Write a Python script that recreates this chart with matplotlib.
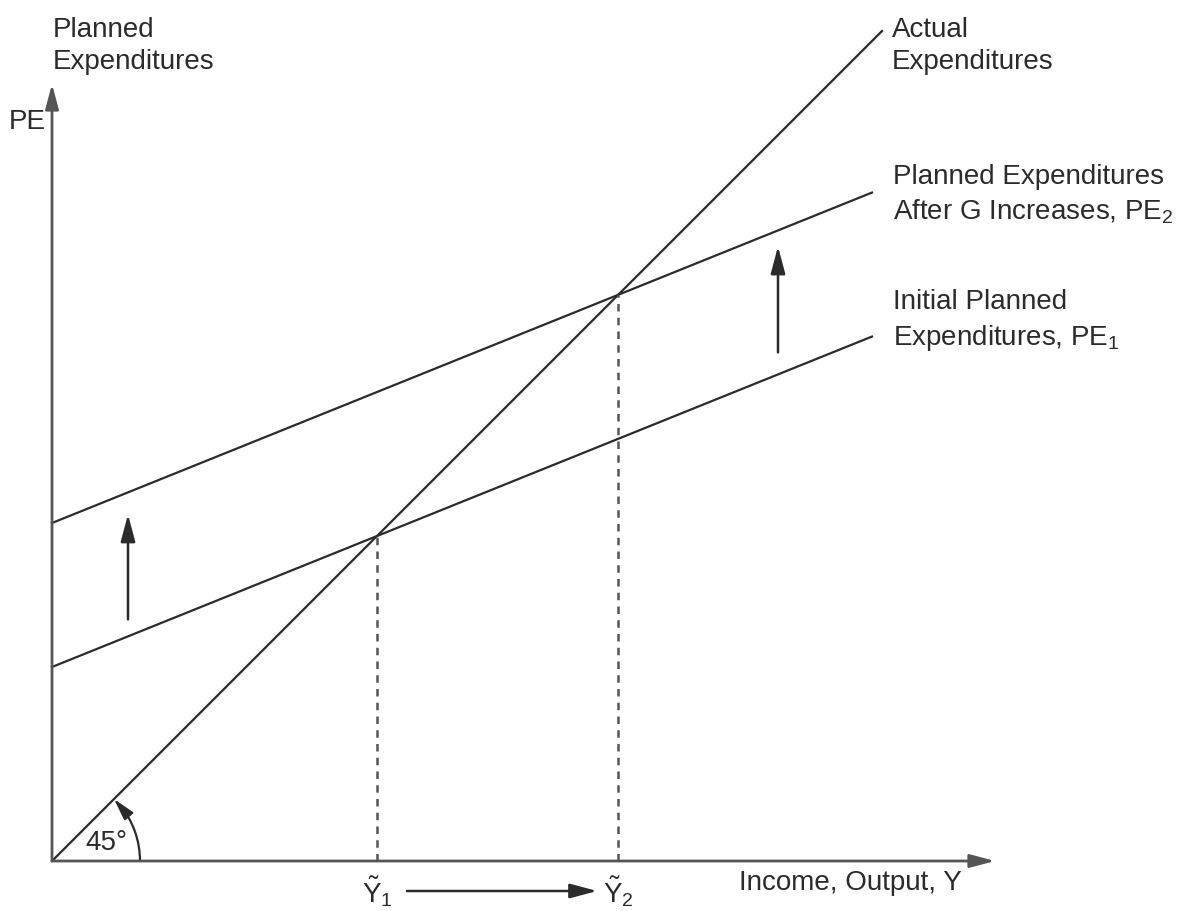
import numpy as np
import matplotlib
matplotlib.use("Agg")
import matplotlib.pyplot as plt
from matplotlib.patches import Arc

# 模型参数（单位≈像素，原点在坐标轴交点）
mpc = 0.403                 # 计划支出线斜率
autonomous_pe1 = 194        # 初始计划支出截距
autonomous_pe2 = 338        # G 增加后的截距
pe_line_end = 820           # PE 线画到的 Y
actual_line_end = 830       # 45 度线画到的 Y
x_axis_len = 943
y_axis_len = 777

font = "Liberation Sans"
plt.rcParams["font.family"] = [font, "DejaVu Sans"]
plt.rcParams["mathtext.fontset"] = "custom"
plt.rcParams["mathtext.rm"] = font
plt.rcParams["mathtext.it"] = font
plt.rcParams["mathtext.bf"] = font

ink = "#2b2b2b"
axis_c = "#555555"
fs = 20
ls_txt = 1.33
head = "-|>,head_length=0.75,head_width=0.2"

fig = plt.figure(figsize=(11.8, 9.12), dpi=100)
ax = fig.add_axes([0, 0, 1, 1])
ax.set_xlim(-52, 1128)
ax.set_ylim(-50, 862)
ax.axis("off")

# 坐标轴
ax.annotate("", xy=(0, y_axis_len), xytext=(0, 0),
            arrowprops=dict(arrowstyle=head, color=axis_c, lw=2, mutation_scale=20, shrinkA=0, shrinkB=0))
ax.annotate("", xy=(x_axis_len, 0), xytext=(0, 0),
            arrowprops=dict(arrowstyle=head, color=axis_c, lw=2, mutation_scale=20, shrinkA=0, shrinkB=0))

# 45 度线 与 两条计划支出线
y_act = np.array([0, actual_line_end])
ax.plot(y_act, y_act, color=ink, lw=1.6)
y_pe = np.array([0, pe_line_end])
pe1 = autonomous_pe1 + mpc * y_pe
pe2 = autonomous_pe2 + mpc * y_pe
ax.plot(y_pe, pe1, color=ink, lw=1.6)
ax.plot(y_pe, pe2, color=ink, lw=1.6)

# 均衡点
y1 = autonomous_pe1 / (1 - mpc)
y2 = autonomous_pe2 / (1 - mpc)
for yy in (y1, y2):
    ax.plot([yy, yy], [0, yy], color=axis_c, lw=1.8, ls=(0, (3, 2.5)))

# 上移箭头
for xa, g1, g2 in [(76, 17, 22), (726, 22, 16)]:
    lo = autonomous_pe1 + mpc * xa + g1
    hi = autonomous_pe2 + mpc * xa - g2
    ax.annotate("", xy=(xa, hi), xytext=(xa, lo),
                arrowprops=dict(arrowstyle=head, color=ink, lw=1.8, mutation_scale=22, shrinkA=0, shrinkB=0))

# Y1 -> Y2 箭头
ax.annotate("", xy=(y2 - 21, -30), xytext=(y1 + 30, -30),
            arrowprops=dict(arrowstyle=head, color=ink, lw=1.8, mutation_scale=22, shrinkA=0, shrinkB=0))

# 45° 弧线
ax.add_patch(Arc((0, 0), 176, 176, theta1=0, theta2=40, color=ink, lw=1.6))
ax.annotate("", xy=(62, 62), xytext=(68, 55),
            arrowprops=dict(arrowstyle=head, color=ink, lw=1.4, mutation_scale=18, shrinkA=0, shrinkB=0))
ax.text(33, 19, "45°", fontsize=fs, color=ink, va="center", ha="left")

# 文字
ax.text(1, 816, "Planned\nExpenditures", fontsize=fs, color=ink, va="center", ha="left", linespacing=ls_txt)
ax.text(-43, 740, "PE", fontsize=fs, color=ink, va="center", ha="left")
ax.text(840, 816, "Actual\nExpenditures", fontsize=fs, color=ink, va="center", ha="left", linespacing=ls_txt)
ax.text(841, 667, "Planned Expenditures\nAfter G Increases, PE$_2$", fontsize=fs, color=ink,
        va="center", ha="left", linespacing=ls_txt)
ax.text(841, 541, "Initial Planned\nExpenditures, PE$_1$", fontsize=fs, color=ink,
        va="center", ha="left", linespacing=ls_txt)
ax.text(687, -21, "Income, Output, Y", fontsize=fs, color=ink, va="center", ha="left")
ax.text(y1, -30, r"$\tilde{\mathrm{Y}}_1$", fontsize=fs, color=ink, va="center", ha="center")
ax.text(y2, -30, r"$\tilde{\mathrm{Y}}_2$", fontsize=fs, color=ink, va="center", ha="center")

fig.savefig("out.png", dpi=100, facecolor="white")
